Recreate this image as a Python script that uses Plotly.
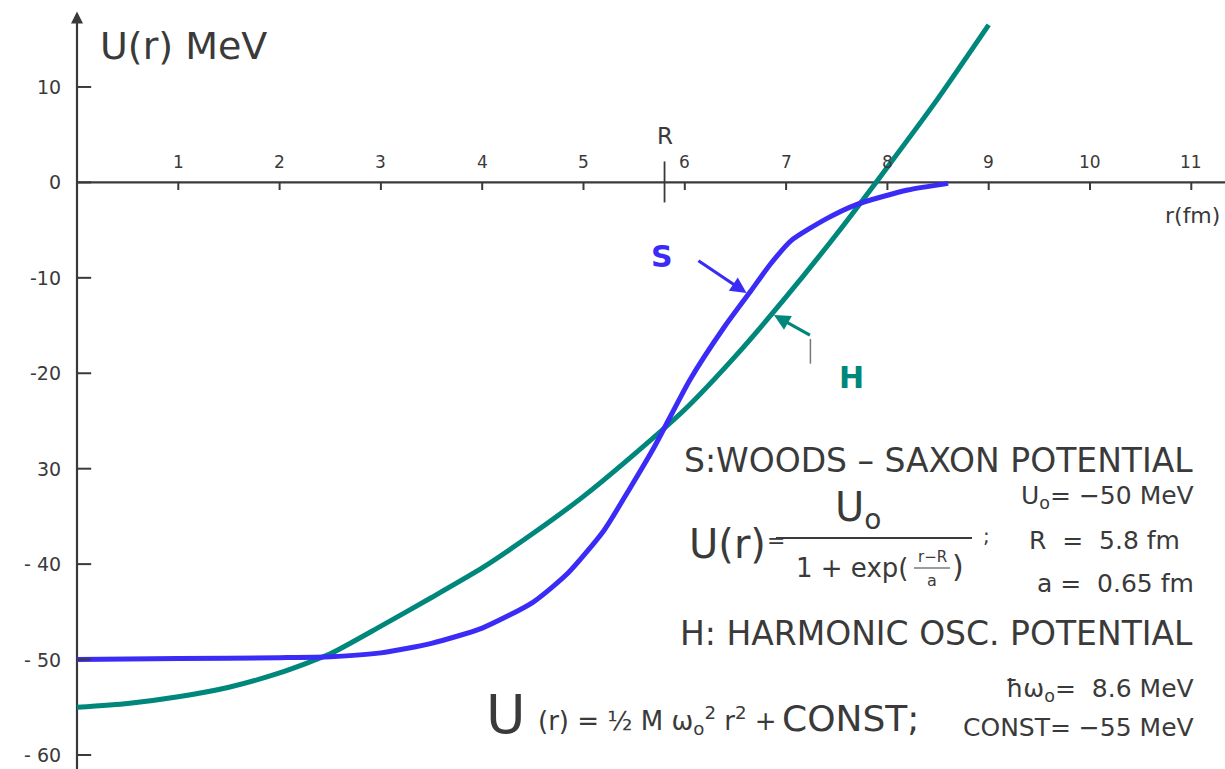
import plotly.graph_objects as go

# ---- data -------------------------------------------------------------
# S: Woods-Saxon potential, U(r) in MeV against r in fm
ws_r = [0.0, 1.0, 2.0, 2.5, 3.0, 3.5, 4.0, 4.5, 4.85, 5.2, 5.45, 5.7,
        6.05, 6.4, 6.65, 6.85, 7.05, 7.4, 7.7, 8.2, 8.6]
ws_u = [-50.0, -49.9, -49.8, -49.7, -49.3, -48.3, -46.7, -44.0, -40.9, -36.5,
        -32.2, -27.7, -20.7, -15.0, -11.4, -8.5, -6.1, -3.8, -2.3, -0.8, -0.1]

# H: harmonic oscillator potential, U(r) in MeV against r in fm
ho_r = [0.0, 0.5, 1.0, 1.5, 2.0, 2.5, 3.0, 3.5, 4.0, 4.5, 5.0, 5.5,
        6.0, 6.5, 7.0, 7.5, 8.0, 8.5, 9.0]
ho_u = [-55.0, -54.6, -53.9, -52.9, -51.4, -49.4, -46.5, -43.5, -40.4, -36.8,
        -32.9, -28.5, -23.8, -18.2, -12.0, -5.4, 1.6, 8.8, 16.5]

x_tick_vals = [1, 2, 3, 4, 5, 6, 7, 8, 9, 10, 11]
x_tick_text = ["1", "2", "3", "4", "5", "6", "7", "8", "9", "10", "11"]
y_tick_vals = [10, 0, -10, -20, -30, -40, -50, -60]
y_tick_text = ["10", "0", "-10", "-20", "30", "- 40", "- 50", "- 60"]
r_nucleus = 5.8

# ---- layout geometry ----------------------------------------------------
W, H = 1225, 769
X0_PX, X_SCALE = 77.0, 101.3      # pixel of r = 0, pixels per fm
Y0_PX, Y_SCALE = 182.4, 9.543     # pixel of U = 0, pixels per MeV
x_range = [-X0_PX / X_SCALE, (W - X0_PX) / X_SCALE]
y_range = [-(H - Y0_PX) / Y_SCALE, Y0_PX / Y_SCALE]

BLUE = "#3a2cf6"
GREEN = "#00877c"
INK = "#3a3a3a"
FONT = "DejaVu Sans"


def pxx(x):
    return x / W


def pxy(y):
    return 1 - y / H


fig = go.Figure()

fig.add_trace(go.Scatter(x=ho_r, y=ho_u, mode="lines",
                         line=dict(color=GREEN, width=5, shape="spline", smoothing=0.6),
                         hoverinfo="skip", showlegend=False))
fig.add_trace(go.Scatter(x=ws_r, y=ws_u, mode="lines",
                         line=dict(color=BLUE, width=5, shape="spline", smoothing=0.6),
                         hoverinfo="skip", showlegend=False))

shapes = []
annotations = []

# axes drawn through the origin
shapes.append(dict(type="line", xref="x", yref="y", x0=0, x1=x_range[1] + 1,
                   y0=0, y1=0, line=dict(color=INK, width=2.2), layer="below"))
shapes.append(dict(type="line", xref="x", yref="y", x0=0, x1=0,
                   y0=y_range[0] - 1, y1=17.0, line=dict(color=INK, width=2.2), layer="below"))
annotations.append(dict(x=0, y=17.9, xref="x", yref="y", ax=0, ay=15.0,
                        axref="x", ayref="y", showarrow=True, text="",
                        arrowhead=2, arrowsize=1.2, arrowwidth=2, arrowcolor=INK))

# x ticks (below the axis) with labels above it
for v, t in zip(x_tick_vals, x_tick_text):
    shapes.append(dict(type="line", xref="x", yref="y", x0=v, x1=v, y0=0, y1=-0.8,
                       line=dict(color=INK, width=2)))
    annotations.append(dict(x=v, y=0.9, xref="x", yref="y", text=t, showarrow=False,
                            xanchor="center", yanchor="bottom",
                            font=dict(family=FONT, size=17, color=INK)))

# marker for the nuclear radius R
shapes.append(dict(type="line", xref="x", yref="y", x0=r_nucleus, x1=r_nucleus,
                   y0=2.2, y1=-2.1, line=dict(color=INK, width=1.8)))
annotations.append(dict(x=r_nucleus, y=3.3, xref="x", yref="y", text="R", showarrow=False,
                        xanchor="center", yanchor="bottom",
                        font=dict(family=FONT, size=23, color=INK)))

# y ticks (right of the axis) with labels on the left
for v, t in zip(y_tick_vals, y_tick_text):
    shapes.append(dict(type="line", xref="x", yref="y", x0=0, x1=0.14, y0=v, y1=v,
                       line=dict(color=INK, width=2)))
    annotations.append(dict(x=-0.14, y=v, xref="x", yref="y", text=t, showarrow=False,
                            xanchor="right", yanchor="middle",
                            font=dict(family=FONT, size=19, color=INK)))


def note(x, y, text, size, anchor="center", color=INK):
    annotations.append(dict(x=pxx(x), y=pxy(y), xref="paper", yref="paper", text=text,
                            showarrow=False, xanchor=anchor, yanchor="middle",
                            font=dict(family=FONT, size=size, color=color)))


# axis titles
note(98, 46, "U(r) MeV", 38, "left")
note(1222, 215, "r(fm)", 22, "right")

# curve labels with pointers
annotations.append(dict(x=6.61, y=-11.6, xref="x", yref="y", ax=6.12, ay=-8.1,
                        axref="x", ayref="y", showarrow=True, text="",
                        arrowhead=2, arrowsize=1.0, arrowwidth=3.2, arrowcolor=BLUE))
note(662, 256, "<b>S</b>", 30, "center", BLUE)
annotations.append(dict(x=6.88, y=-13.9, xref="x", yref="y", ax=7.25, ay=-16.1,
                        axref="x", ayref="y", showarrow=True, text="",
                        arrowhead=2, arrowsize=1.0, arrowwidth=3.2, arrowcolor=GREEN))
shapes.append(dict(type="line", xref="x", yref="y", x0=7.24, x1=7.24, y0=-16.4, y1=-19.0,
                   line=dict(color="#777777", width=1.5)))
note(851, 377, "<b>H</b>", 30, "center", GREEN)

# Woods-Saxon description
note(1195, 460, "S:WOODS – SAXON POTENTIAL", 33, "right")
note(727, 544, "U(r)", 40, "center")
note(776, 540, "=", 22, "center")
note(858, 510, "U<sub>o</sub>", 40, "center")
shapes.append(dict(type="line", xref="paper", yref="paper", x0=pxx(776), x1=pxx(972),
                   y0=pxy(538), y1=pxy(538), line=dict(color=INK, width=2)))
note(910, 568, "1 + exp(", 26, "right")
note(932, 557, "r−R", 15, "center")
shapes.append(dict(type="line", xref="paper", yref="paper", x0=pxx(914), x1=pxx(950),
                   y0=pxy(568), y1=pxy(568), line=dict(color=INK, width=1.2)))
note(932, 580, "a", 16, "center")
note(958, 566, ")", 30, "center")
note(986, 536, ";", 20, "center")
note(1196, 497, "U<sub>o</sub>= −50 MeV", 25, "right")
note(1182, 540, "R  =  5.8 fm", 25, "right")
note(1196, 583, "a =  0.65 fm", 25, "right")

# harmonic oscillator description
note(1195, 633, "H: HARMONIC OSC. POTENTIAL", 33, "right")
note(506, 714, "U", 54, "center")
note(536, 720, "(r) = ½ M ω<sub>o</sub><sup>2</sup> r<sup>2</sup> +", 26, "left")
note(780, 718, "CONST;", 36, "left")
note(1196, 690, "ħω<sub>o</sub>=  8.6 MeV", 25, "right")
note(1196, 727, "CONST= −55 MeV", 25, "right")

fig.update_layout(
    width=W, height=H, autosize=False,
    margin=dict(l=0, r=0, t=0, b=0),
    paper_bgcolor="white", plot_bgcolor="white",
    xaxis=dict(range=x_range, visible=False, fixedrange=True),
    yaxis=dict(range=y_range, visible=False, fixedrange=True),
    shapes=shapes, annotations=annotations,
    showlegend=False,
)

fig.write_html("out.html", config={"displayModeBar": False})
